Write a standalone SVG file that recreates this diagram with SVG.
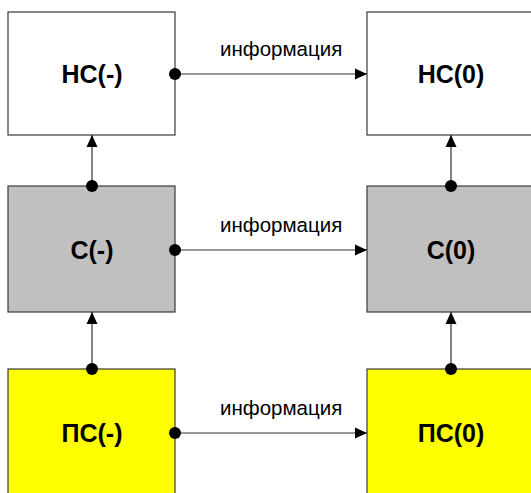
<svg xmlns="http://www.w3.org/2000/svg" width="531" height="493" viewBox="0 0 531 493">
  <defs>
    <marker id="tip" viewBox="0 0 12 12" refX="12" refY="6" markerWidth="12" markerHeight="12" markerUnits="userSpaceOnUse" orient="auto">
      <path d="M0,0.5 L12,6 L0,11.5 Z" fill="#000"/>
    </marker>
    <marker id="dot" viewBox="0 0 12 12" refX="6" refY="6" markerWidth="12" markerHeight="12" markerUnits="userSpaceOnUse">
      <circle cx="6" cy="6" r="6" fill="#000"/>
    </marker>
  </defs>
  <style>
    .box { stroke: #3a3a3a; stroke-width: 1.2; }
    .ns { fill: #ffffff; }
    .s { fill: #c0c0c0; }
    .ps { fill: #ffff00; }
    .name { font-family: "Liberation Sans", Arial, sans-serif; font-weight: bold; font-size: 25px; text-anchor: middle; fill: #000; }
    .info { font-family: "Liberation Sans", Arial, sans-serif; font-size: 20.5px; fill: #000; }
    .link { stroke: #333; stroke-width: 1.2; fill: none; marker-start: url(#dot); marker-end: url(#tip); }
  </style>
  <rect width="531" height="493" fill="#ffffff"/>

  <g id="ns-minus">
    <rect class="box ns" x="8" y="12" width="167" height="123"/>
    <text class="name" x="92" y="83">НС(-)</text>
  </g>
  <g id="ns-zero">
    <rect class="box ns" x="367" y="12" width="167" height="123"/>
    <text class="name" x="451" y="83">НС(0)</text>
  </g>
  <g id="s-minus">
    <rect class="box s" x="8" y="186" width="167" height="126"/>
    <text class="name" x="92" y="259">С(-)</text>
  </g>
  <g id="s-zero">
    <rect class="box s" x="367" y="186" width="167" height="126"/>
    <text class="name" x="451" y="259">С(0)</text>
  </g>
  <g id="ps-minus">
    <rect class="box ps" x="8" y="369" width="167" height="140"/>
    <text class="name" x="92" y="442">ПС(-)</text>
  </g>
  <g id="ps-zero">
    <rect class="box ps" x="367" y="369" width="167" height="140"/>
    <text class="name" x="451" y="442">ПС(0)</text>
  </g>

  <g id="connectors">
    <line class="link" x1="175" y1="74" x2="367" y2="74"/>
    <line class="link" x1="175" y1="250" x2="367" y2="250"/>
    <line class="link" x1="175" y1="433" x2="367" y2="433"/>
    <line class="link" x1="92" y1="186" x2="92" y2="135"/>
    <line class="link" x1="451" y1="186" x2="451" y2="135"/>
    <line class="link" x1="92" y1="369" x2="92" y2="312"/>
    <line class="link" x1="451" y1="369" x2="451" y2="312"/>
    <text class="info" x="220" y="56">информация</text>
    <text class="info" x="220" y="232">информация</text>
    <text class="info" x="220" y="415">информация</text>
  </g>
</svg>
